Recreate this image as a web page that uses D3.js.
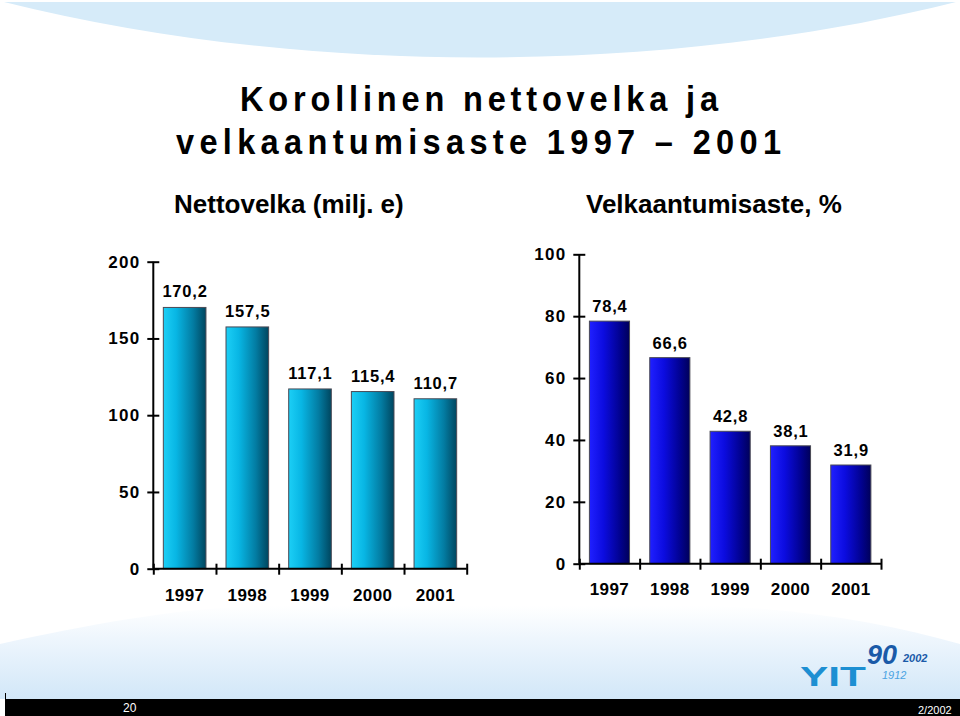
<!DOCTYPE html>
<html>
<head>
<meta charset="utf-8">
<script src="https://cdn.jsdelivr.net/npm/d3@7"></script>
<style>
  html, body { margin: 0; padding: 0; background: #ffffff; }
  svg { display: block; }
  text { font-family: "Liberation Sans", Arial, Helvetica, sans-serif; }
</style>
</head>
<body>
<svg id="chart" width="960" height="716"></svg>
<script>
// ---- data ----
const years = ["1997", "1998", "1999", "2000", "2001"];
const nettovelka = [170.2, 157.5, 117.1, 115.4, 110.7];
const velkaantumisaste = [78.4, 66.6, 42.8, 38.1, 31.9];
const leftTicks = [0, 50, 100, 150, 200];
const rightTicks = [0, 20, 40, 60, 80, 100];
const titleLines = ["Korollinen nettovelka ja", "velkaantumisaste 1997 \u2013 2001"];
const leftSubtitle = "Nettovelka (milj. e)";
const rightSubtitle = "Velkaantumisaste, %";

const svg = d3.select("#chart");
const fmt = v => d3.format(".1f")(v).replace(".", ",");

// ---- background decoration ----
const defs = svg.append("defs");
const gL = defs.append("linearGradient").attr("id", "gradCyan").attr("x1", 0).attr("x2", 1).attr("y1", 0).attr("y2", 0);
[[0, "#1ccff6"], [0.3, "#08b6e4"], [0.7, "#037ca2"], [1, "#00465f"]].forEach(s => gL.append("stop").attr("offset", s[0]).attr("stop-color", s[1]));
const gR = defs.append("linearGradient").attr("id", "gradBlue").attr("x1", 0).attr("x2", 1).attr("y1", 0).attr("y2", 0);
[[0, "#2020ff"], [0.35, "#0c0ce0"], [0.75, "#020292"], [1, "#00005a"]].forEach(s => gR.append("stop").attr("offset", s[0]).attr("stop-color", s[1]));
const gB = defs.append("linearGradient").attr("id", "gradBottom").attr("x1", 0).attr("x2", 0).attr("y1", 0).attr("y2", 1);
[[0, "#ffffff"], [0.35, "#eef6fd"], [1, "#d2e7f8"]].forEach(s => gB.append("stop").attr("offset", s[0]).attr("stop-color", s[1]));

svg.append("path").attr("d", "M4,2 C300,76 660,76 956,2 Z").attr("fill", "#d6ebf9");
svg.append("path")
  .attr("d", "M0,644 C90,624 170,610 250,606 L720,606 C810,610 890,624 960,644 L960,699 L0,699 Z")
  .attr("fill", "url(#gradBottom)");

// footer bar
svg.append("rect").attr("x", 5).attr("y", 699).attr("width", 955).attr("height", 17).attr("fill", "#000");
svg.append("line").attr("x1", 5.5).attr("x2", 5.5).attr("y1", 693).attr("y2", 700).attr("stroke", "#000").attr("stroke-width", 1);
svg.append("text").attr("x", 123).attr("y", 712).attr("fill", "#fff").attr("font-size", 12).text("20");
svg.append("text").attr("x", 918).attr("y", 714).attr("fill", "#fff").attr("font-size", 11).text("2/2002");

// logo
svg.append("text").attr("x", 800).attr("y", 686).attr("fill", "#1d8fd2")
  .attr("font-family", "DejaVu Sans").attr("font-weight", "bold").attr("font-size", 28)
  .attr("textLength", 66).attr("lengthAdjust", "spacingAndGlyphs").text("YIT");
svg.append("text").attr("x", 867).attr("y", 664).attr("fill", "#1a5aa8")
  .attr("font-family", "Liberation Serif").attr("font-weight", "bold").attr("font-style", "italic").attr("font-size", 27).text("90");
svg.append("text").attr("x", 903).attr("y", 662).attr("fill", "#1a5aa8")
  .attr("font-family", "Liberation Serif").attr("font-weight", "bold").attr("font-style", "italic").attr("font-size", 11).text("2002");
svg.append("text").attr("x", 882).attr("y", 679).attr("fill", "#4aa3e2")
  .attr("font-family", "Liberation Serif").attr("font-style", "italic").attr("font-size", 11).text("1912");

// ---- titles (slightly condensed glyphs, wide spacing) ----
const sx = 0.93;
function titleText(str, x, y, width) {
  svg.append("text")
    .attr("transform", `translate(${x},${y}) scale(${sx},1)`)
    .attr("font-weight", "bold").attr("font-size", 35)
    .attr("textLength", width / sx).attr("lengthAdjust", "spacing")
    .text(str);
}
titleText(titleLines[0], 240, 111, 478);
titleText(titleLines[1], 176, 154, 605);

svg.append("text").attr("x", 174).attr("y", 213).attr("font-weight", "bold").attr("font-size", 26).text(leftSubtitle);
svg.append("text").attr("x", 586).attr("y", 213).attr("font-weight", "bold").attr("font-size", 26).text(rightSubtitle);

// ---- chart builder ----
function barChart(opts) {
  const { values, ticks, yDomain, x0, x1, yBottom, yTop, fill, barFrac, labelGap, yearBaseline } = opts;
  const y = d3.scaleLinear().domain(yDomain).range([yBottom, yTop]);
  const xb = d3.scaleBand().domain(years).range([x0, x1]).paddingInner(0).paddingOuter(0);
  const bw = xb.bandwidth() * barFrac;
  const off = (xb.bandwidth() - bw) / 2;
  const g = svg.append("g");

  // bars
  g.selectAll("rect.bar").data(values).join("rect")
    .attr("class", "bar")
    .attr("x", (d, i) => xb(years[i]) + off)
    .attr("y", d => y(d))
    .attr("width", bw)
    .attr("height", d => y(0) - y(d))
    .attr("fill", fill)
    .attr("stroke", "#4a4a55").attr("stroke-width", 1);

  // value labels
  g.selectAll("text.val").data(values).join("text")
    .attr("class", "val")
    .attr("x", (d, i) => xb(years[i]) + xb.bandwidth() / 2 + 0.4)
    .attr("y", d => y(d) - labelGap)
    .attr("text-anchor", "middle")
    .attr("font-weight", "bold").attr("font-size", 16.5).attr("letter-spacing", 0.8)
    .text(d => fmt(d));

  // y axis
  const ya = g.append("g").attr("transform", `translate(${x0},0)`)
    .call(d3.axisLeft(y).tickValues(ticks).tickSize(6).tickSizeOuter(0).tickFormat(d3.format("d")));
  ya.select(".domain").attr("stroke", "#000").attr("stroke-width", 2)
    .attr("d", `M0,${y(yDomain[1])}V${y(0)}`);
  ya.selectAll(".tick line").attr("x1", 6).attr("x2", -6).attr("stroke", "#000").attr("stroke-width", 2);
  ya.selectAll(".tick text").attr("x", -13).attr("font-weight", "bold").attr("font-size", 17)
    .attr("letter-spacing", 1.2).attr("fill", "#000").attr("font-family", null);

  // x axis with boundary ticks
  const xi = d3.scaleLinear().domain([0, years.length]).range([x0, x1]);
  const xa = g.append("g").attr("transform", `translate(0,${y(0)})`)
    .call(d3.axisBottom(xi).tickValues(d3.range(0, years.length + 1)).tickSize(6).tickSizeOuter(0).tickFormat(""));
  xa.select(".domain").attr("stroke", "#000").attr("stroke-width", 2).attr("d", `M${x0},0H${x1}`);
  xa.selectAll(".tick line").attr("y1", -5).attr("y2", 6).attr("stroke", "#000").attr("stroke-width", 2);

  // year labels
  const xl = g.append("g").attr("transform", `translate(0,${yearBaseline})`)
    .call(d3.axisBottom(xb).tickSize(0).tickPadding(0));
  xl.select(".domain").remove();
  xl.selectAll(".tick text").attr("dy", 0).attr("y", 0)
    .attr("font-weight", "bold").attr("font-size", 17).attr("letter-spacing", 0.4)
    .attr("fill", "#000").attr("font-family", null);
}

barChart({
  values: nettovelka, ticks: leftTicks, yDomain: [0, 200],
  x0: 153.3, x1: 466.7, yBottom: 568.7, yTop: 261.7,
  fill: "url(#gradCyan)", barFrac: 0.68, labelGap: 10, yearBaseline: 601
});
barChart({
  values: velkaantumisaste, ticks: rightTicks, yDomain: [0, 100],
  x0: 579.3, x1: 881, yBottom: 563.7, yTop: 254.3,
  fill: "url(#gradBlue)", barFrac: 0.665, labelGap: 9, yearBaseline: 595
});
</script>
</body>
</html>
